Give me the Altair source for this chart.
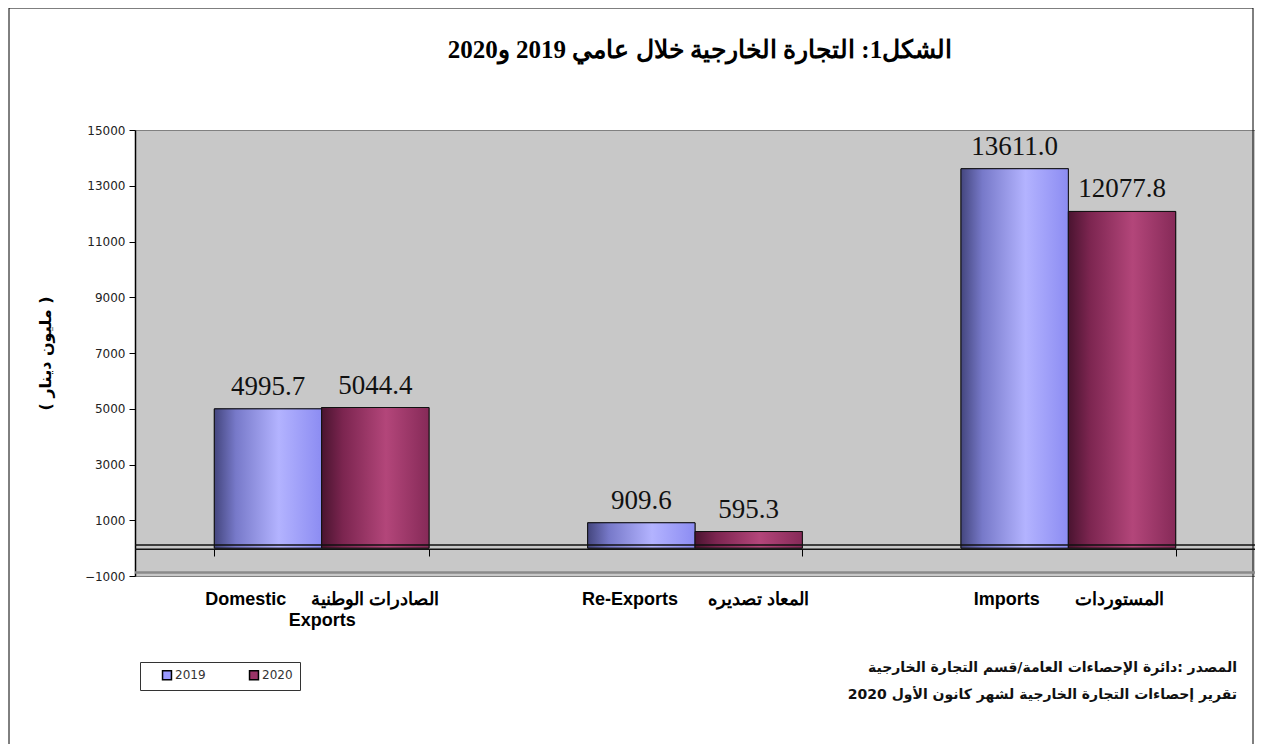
import json
import altair as alt
import pandas as pd

# ---------------- data ----------------
categories = ["Domestic Exports", "Re-Exports", "Imports"]
english_lines = [["Domestic", "Exports"], ["Re-Exports"], ["Imports"]]
arabic_names = ["الصادرات الوطنية", "المعاد تصديره", "المستوردات"]
years = ["2019", "2020"]
values_2019 = [4995.7, 909.6, 13611.0]
values_2020 = [5044.4, 595.3, 12077.8]
y_ticks = [-1000, 1000, 3000, 5000, 7000, 9000, 11000, 13000, 15000]

title_text = "الشكل1: التجارة الخارجية خلال عامي 2019 و2020"
y_title = "( مليون دينار )"
source_lines = [
    "المصدر :دائرة الإحصاءات العامة/قسم التجارة الخارجية",
    "تقرير إحصاءات التجارة الخارجية لشهر كانون الأول 2020",
]

rows = []
for c, v19, v20 in zip(categories, values_2019, values_2020):
    rows.append({"cat": c, "year": years[0], "value": v19})
    rows.append({"cat": c, "year": years[1], "value": v20})
df = pd.DataFrame(rows)

# ---------------- label expression ----------------
NB = "\u00a0"
gaps = [5, 6, 7]
expr = ""
for c, eng, ar, g in zip(categories, english_lines, arabic_names, gaps):
    lines = [eng[0] + NB * g + ar] + eng[1:]
    expr += "datum.value == %s ? %s : " % (json.dumps(c, ensure_ascii=False),
                                           json.dumps(lines, ensure_ascii=False))
expr += "datum.value"

W, H = 1120, 446

x_enc = alt.X(
    "cat:N",
    sort=categories,
    scale=alt.Scale(paddingInner=0.425, paddingOuter=0.2125),
    axis=alt.Axis(
        title=None,
        orient="bottom",
        offset=-27,
        domain=False,
        tickBand="extent",
        tickSize=7,
        tickColor="#000",
        tickWidth=1,
        labelExpr=expr,
        labelAngle=0,
        labelPadding=34,
        labelFont="Liberation Sans",
        labelFontWeight="bold",
        labelFontSize=18,
        labelColor="#000",
        labelLineHeight=21,
        labelLimit=400,
    ),
)
xoff = alt.XOffset("year:N", sort=years)
y_enc = alt.Y(
    "value:Q",
    scale=alt.Scale(domain=[-1000, 15000], nice=False, zero=False),
    axis=alt.Axis(
        title=y_title,
        values=y_ticks,
        format="d",
        grid=False,
        domainColor="#000",
        domainWidth=1.5,
        tickColor="#000",
        tickSize=6,
        labelFont="DejaVu Sans",
        labelFontSize=12,
        labelColor="#222",
        labelPadding=4,
        titleFont="DejaVu Sans",
        titleFontSize=16,
        titleFontWeight="bold",
        titleColor="#000",
        titlePadding=31,
    ),
)

base = alt.Chart(df)

bars = base.mark_bar(stroke="#222", strokeWidth=1).encode(
    x=x_enc,
    xOffset=xoff,
    y=y_enc,
    color=alt.Color(
        "year:N",
        sort=years,
        scale=alt.Scale(domain=years, range=["#9999ff", "#993366"]),
        legend=alt.Legend(
            title=None,
            orient="none",
            legendX=5,
            legendY=532,
            direction="horizontal",
            symbolType="square",
            symbolSize=80,
            symbolStrokeColor="#000",
            symbolStrokeWidth=1.5,
            labelFont="DejaVu Sans",
            labelFontSize=12,
            labelColor="#333",
            labelOffset=2,
            columnPadding=28,
            strokeColor="#333",
            fillColor="#fff",
            padding=7,
            symbolOffset=14,
        ),
    ),
)

grad_2019 = {
    "gradient": "linear", "x1": 0, "x2": 1, "y1": 0, "y2": 0,
    "stops": [
        {"offset": 0, "color": "#44467e"},
        {"offset": 0.2, "color": "#7779c9"},
        {"offset": 0.6, "color": "#b3b3ff"},
        {"offset": 1, "color": "#8c8cf2"},
    ],
}
grad_2020 = {
    "gradient": "linear", "x1": 0, "x2": 1, "y1": 0, "y2": 0,
    "stops": [
        {"offset": 0, "color": "#4a1430"},
        {"offset": 0.2, "color": "#7c2550"},
        {"offset": 0.6, "color": "#b3467a"},
        {"offset": 1, "color": "#862a58"},
    ],
}

g19 = base.transform_filter(alt.datum.year == years[0]).mark_bar(
    color=grad_2019, stroke="#111", strokeWidth=1
).encode(x=x_enc, xOffset=xoff, y=y_enc)
g20 = base.transform_filter(alt.datum.year == years[1]).mark_bar(
    color=grad_2020, stroke="#111", strokeWidth=1
).encode(x=x_enc, xOffset=xoff, y=y_enc)

labels = base.mark_text(
    baseline="bottom", dy=-8, font="Liberation Serif", fontSize=27, color="#111"
).encode(x=x_enc, xOffset=xoff, y=y_enc, text=alt.Text("value:Q", format=".1f"))

one = pd.DataFrame({"a": [0]})
floor_top = alt.Chart(one).mark_rule(color="#111", strokeWidth=1.5).encode(y=alt.datum(110))
floor_mid = alt.Chart(one).mark_rule(color="#111", strokeWidth=1.5).encode(y=alt.datum(-40))
floor_back = alt.Chart(one).mark_rule(color="#8a8a8a", strokeWidth=2.5).encode(y=alt.datum(-870))

title_mark = alt.Chart(pd.DataFrame({"t": [title_text]})).mark_text(
    align="center", baseline="middle", font="Liberation Serif", fontSize=25,
    fontWeight="bold", color="#000"
).encode(x=alt.value(565), y=alt.value(-80), text="t:N")

src1 = alt.Chart(pd.DataFrame({"t": [source_lines[0]]})).mark_text(
    align="right", baseline="middle", font="DejaVu Sans", fontSize=14,
    fontWeight="bold", color="#111"
).encode(x=alt.value(1102), y=alt.value(538), text="t:N")
src2 = alt.Chart(pd.DataFrame({"t": [source_lines[1]]})).mark_text(
    align="right", baseline="middle", font="DejaVu Sans", fontSize=14,
    fontWeight="bold", color="#111"
).encode(x=alt.value(1102), y=alt.value(565), text="t:N")

frame = alt.Chart(one).mark_rect(fill=None, stroke="#000", strokeWidth=1).encode(
    x=alt.value(-126), x2=alt.value(1118), y=alt.value(-122), y2=alt.value(640)
)

chart = alt.layer(
    frame, floor_back, bars, g19, g20, floor_top, floor_mid, labels,
    title_mark, src1, src2
).properties(
    width=W,
    height=H,
    autosize=alt.AutoSizeParams(type="none"),
    padding={"left": 127, "top": 122, "right": 0, "bottom": 168},
).configure_view(
    fill="#c8c8c8", stroke="#808080", strokeWidth=1
)

chart.save("out.html", embed_options={"renderer": "svg", "actions": False})
